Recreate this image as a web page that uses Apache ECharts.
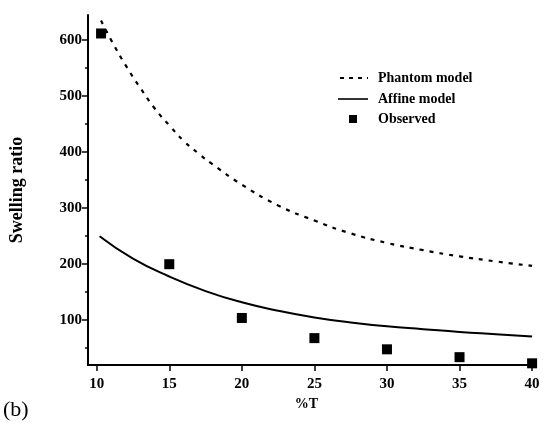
<!DOCTYPE html>
<html>
<head>
<meta charset="utf-8">
<script src="https://cdn.jsdelivr.net/npm/echarts@6/dist/echarts.min.js"></script>
<style>
  html, body { margin: 0; padding: 0; background: #fff; }
  #main { width: 544px; height: 426px; }
</style>
</head>
<body>
<div id="main"></div>
<script>
// values
var xTicks = [10, 15, 20, 25, 30, 35, 40];
var yTicks = [100, 200, 300, 400, 500, 600];
var yMinorTicks = [50, 150, 250, 350, 450, 550];
var legendNames = ["Phantom model", "Affine model", "Observed"];

var phantomX = [10.3, 11, 12, 13, 14, 15, 16, 17, 18, 20, 22.5, 25, 27.5, 30, 32.5, 35, 37.5, 40];
var phantomY = [635, 600, 555, 515, 478, 448, 420, 398, 378, 342, 305, 278, 255, 238, 225, 214, 205, 197];

var affineX = [10.2, 12.5, 15, 17.5, 20, 22.5, 25, 27.5, 30, 32.5, 35, 37.5, 40];
var affineY = [250, 210, 178, 152, 132, 117, 105, 96, 89, 84, 79, 75, 71];

var obsX = [10.3, 15, 20, 25, 30, 35, 40];
var obsY = [612, 200, 104, 68, 48, 34, 23];

function pairs(xs, ys) {
  return xs.map(function (x, i) { return [x, ys[i]]; });
}

var font = "'Liberation Serif', 'DejaVu Serif', serif";
var txt = { fill: "#000", font: "bold 14px " + font };

// hand-drawn legend, the built-in one puts symbols on the line icons
var legendItems = [
  { type: "line", shape: { x1: 340, y1: 78, x2: 368, y2: 78 }, style: { stroke: "#000", lineWidth: 2.2, lineDash: [4, 5] } },
  { type: "text", x: 378, y: 71, style: Object.assign({ text: legendNames[0] }, txt) },
  { type: "line", shape: { x1: 338, y1: 99, x2: 368, y2: 99 }, style: { stroke: "#000", lineWidth: 1.6 } },
  { type: "text", x: 378, y: 92, style: Object.assign({ text: legendNames[1] }, txt) },
  { type: "rect", shape: { x: 349, y: 115, width: 8, height: 8 }, style: { fill: "#000" } },
  { type: "text", x: 378, y: 112, style: Object.assign({ text: legendNames[2] }, txt) },
  { type: "text", x: 3, y: 399, style: { text: "(b)", fill: "#000", font: "22px " + font } }
];

var myChart = echarts.init(document.getElementById("main"));
var option = {
  backgroundColor: "#fff",
  animation: false,
  grid: { left: 86, right: 9, top: 15, bottom: 61 },
  xAxis: {
    type: "value",
    min: 9.4,
    max: 40.2,
    name: "%T",
    nameLocation: "middle",
    nameGap: 32,
    nameTextStyle: { color: "#000", fontFamily: font, fontWeight: "bold", fontSize: 14, padding: [0, 10, 0, 0] },
    splitLine: { show: false },
    axisLine: { lineStyle: { color: "#000", width: 2 } },
    axisTick: { show: true, inside: false, length: 6, customValues: xTicks, lineStyle: { color: "#000", width: 1.5 } },
    axisLabel: { customValues: xTicks, color: "#000", fontFamily: font, fontWeight: "bold", fontSize: 15, margin: 12 }
  },
  yAxis: [{
    type: "value",
    min: 20,
    max: 645,
    name: "Swelling ratio",
    nameLocation: "middle",
    nameGap: 62,
    nameTextStyle: { color: "#000", fontFamily: font, fontWeight: "bold", fontSize: 18 },
    splitLine: { show: false },
    axisLine: { show: true, lineStyle: { color: "#000", width: 2 } },
    axisTick: { show: true, inside: false, length: 6, customValues: yTicks, lineStyle: { color: "#000", width: 1.5 } },
    axisLabel: { customValues: yTicks, color: "#000", fontFamily: font, fontWeight: "bold", fontSize: 15, margin: 6 }
  }, {
    type: "value",
    position: "left",
    min: 20,
    max: 645,
    splitLine: { show: false },
    axisLine: { show: false },
    axisTick: { show: true, inside: false, length: 3, customValues: yMinorTicks, lineStyle: { color: "#000", width: 1.5 } },
    axisLabel: { show: false }
  }],
  series: [
    {
      name: legendNames[0],
      type: "line",
      smooth: true,
      symbol: "none",
      data: pairs(phantomX, phantomY),
      lineStyle: { color: "#000", width: 2.2, type: [4, 6] }
    },
    {
      name: legendNames[1],
      type: "line",
      smooth: true,
      symbol: "none",
      data: pairs(affineX, affineY),
      lineStyle: { color: "#000", width: 2 }
    },
    {
      name: legendNames[2],
      type: "scatter",
      symbol: "rect",
      symbolSize: 10,
      data: pairs(obsX, obsY),
      itemStyle: { color: "#000", opacity: 1 }
    }
  ],
  graphic: legendItems
};
myChart.setOption(option);
</script>
</body>
</html>
